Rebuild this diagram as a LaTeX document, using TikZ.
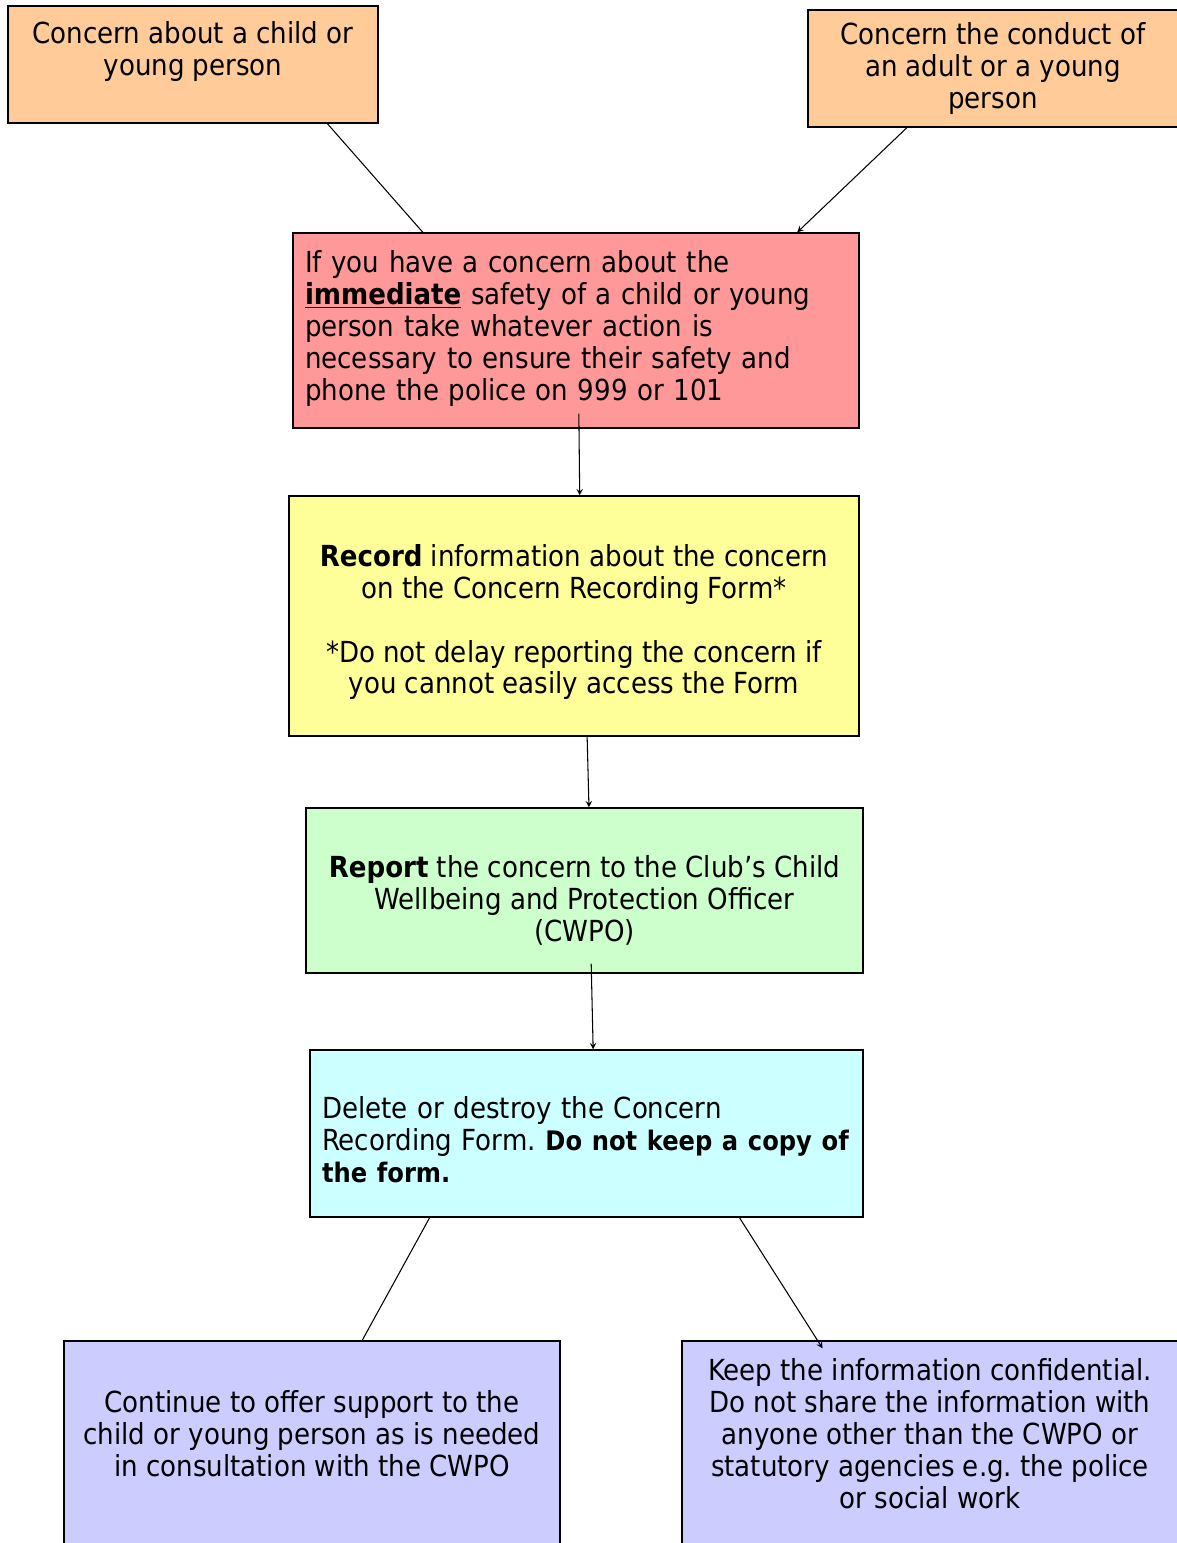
\documentclass[tikz,border=0pt]{standalone}
\usepackage{fontspec}
\setmainfont{DejaVuSansCondensed.ttf}[BoldFont=DejaVuSansCondensed-Bold.ttf]
\usetikzlibrary{arrows, calc}

\definecolor{peach}{HTML}{FFCC99}
\definecolor{rose}{HTML}{FF9999}
\definecolor{lemon}{HTML}{FFFF99}
\definecolor{mint}{HTML}{CCFFCC}
\definecolor{aqua}{HTML}{CCFFFF}
\definecolor{lilac}{HTML}{CCCCFF}

\newcommand{\tightbf}[1]{{\fontsize{15.3}{18.2}\selectfont\textbf{#1}}}

\begin{document}
\frenchspacing
\begin{tikzpicture}[x=0.02cm, y=-0.02cm,
	box/.style={draw, line width=0.8pt, inner sep=0pt, font=\fontsize{16.5}{18.2}\selectfont},
	link/.style={line width=0.6pt}]
	\useasboundingbox (0,0) rectangle (1177,1543);

	% top row
	\node[box, fill=peach, minimum width=7.4cm, minimum height=2.34cm, align=center] (child) at (193,64.5)
		{Concern about a child or\\young person\\ };
	\node[box, fill=peach, minimum width=7.4cm, minimum height=2.34cm, align=center] (adult) at (993,68.5)
		{Concern the conduct of\\an adult or a young\\person};

	% main column
	\node[box, fill=rose, minimum height=3.9cm, text width=10.84cm, inner xsep=0.24cm, align=left] (urgent) at (576,330.5)
		{If you have a concern about the\\
		\underline{\textbf{immediate}} safety of a child or young\\
		person take whatever action is\\
		necessary to ensure their safety and\\
		phone the police on 999 or 101\\[-12.6pt]\mbox{}};
	\node[box, fill=lemon, minimum width=11.4cm, minimum height=4.8cm, align=center] (record) at (574,616)
		{\mbox{}\\[1.2pt]\textbf{Record} information about the concern\\
		on the Concern Recording Form*\\[18.2pt]
		*Do not delay reporting the concern if\\
		you cannot easily access the Form};
	\node[box, fill=mint, minimum width=11.14cm, minimum height=3.3cm, align=center] (report) at (584.5,890.5)
		{\mbox{}\\[5.4pt]\textbf{Report} the concern to the Club’s Child\\
		Wellbeing and Protection Officer\\
		(CWPO)};
	\node[box, fill=aqua, minimum height=3.34cm, text width=10.58cm, inner xsep=0.24cm, align=left] (delete) at (586.5,1133.5)
		{\mbox{}\\[1.4pt]Delete or destroy the Concern\\
		\mbox{Recording Form. \tightbf{Do not keep a copy of}}\\
		\tightbf{the form.}};

	% bottom row
	\node[box, fill=lilac, minimum width=9.92cm, minimum height=4.2cm, align=center] (support) at (312,1446)
		{Continue to offer support to the\\
		child or young person as is needed\\
		in consultation with the CWPO\\[-4pt]\mbox{}};
	\node[box, fill=lilac, minimum width=9.92cm, minimum height=4.2cm, align=center] (secret) at (930,1446)
		{Keep the information confidential.\\
		Do not share the information with\\
		anyone other than the CWPO or\\
		statutory agencies e.g. the police\\
		or social work\\[-4pt]\mbox{}};

	% connectors
	\draw[link] ($(child.south west)!0.862!(child.south east)$) -- ($(urgent.north west)!0.23!(urgent.north east)$);
	\draw[link, -stealth] ($(adult.south west)!0.268!(adult.south east)$) -- ($(urgent.north west)!0.89!(urgent.north east)$);
	\draw[link, -stealth] ($(urgent.south west)!0.505!(urgent.south east)+(0,-15)$) -- ($(record.north west)!0.51!(record.north east)$);
	\draw[link, -stealth] ($(record.south west)!0.523!(record.south east)$) -- ($(report.north west)!0.508!(report.north east)$);
	\draw[link, -stealth] ($(report.south west)!0.512!(report.south east)+(0,-10)$) -- ($(delete.north west)!0.512!(delete.north east)$);
	\draw[link] ($(delete.south west)!0.217!(delete.south east)$) -- ($(support.north west)!0.601!(support.north east)$);
	\draw[link, -stealth] ($(delete.south west)!0.776!(delete.south east)$) -- ($(secret.north west)!0.284!(secret.north east)+(0,8)$);
\end{tikzpicture}
\end{document}
